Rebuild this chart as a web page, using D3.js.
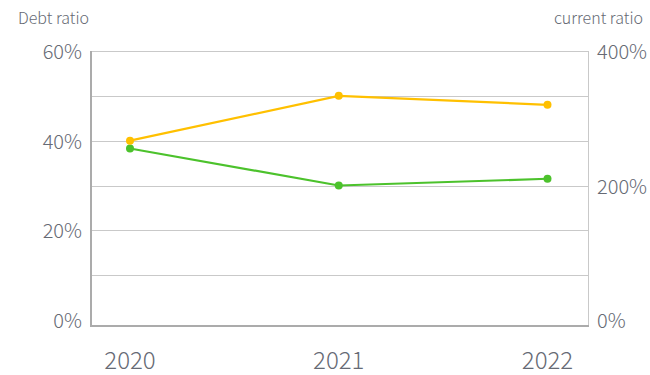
<!DOCTYPE html>
<html>
<head>
<meta charset="utf-8">
<script src="https://cdn.jsdelivr.net/npm/d3@7"></script>
<style>
  body { margin: 0; background: #fff; }
  svg text { font-family: "Noto Sans CJK SC", "Noto Sans", sans-serif; fill: #666a74; font-weight: 300; }
</style>
</head>
<body>
<svg id="chart" width="650" height="375"></svg>
<script>
// data
const years = ["2020", "2021", "2022"]
const debtRatio = [40, 50, 48]        // left axis, %
const currentRatio = [255, 200, 210]  // right axis, %
const leftTicks = [0, 20, 40, 60]
const rightTicks = [0, 200, 400]
const gridTicks = [10, 20, 30, 40, 50, 60]

const svg = d3.select("#chart")

const plotL = 91, plotR = 588, plotT = 51, zeroY = 320, axisY = 326

const x = d3.scalePoint().domain(years).range([130, 547.5])
const yL = d3.scaleLinear().domain([0, 60]).range([zeroY, plotT])
const yR = d3.scaleLinear().domain([0, 400]).range([zeroY, plotT])

// grid
svg.append("g")
    .selectAll("line")
    .data(gridTicks)
    .join("line")
    .attr("x1", plotL)
    .attr("x2", plotR)
    .attr("y1", d => Math.round(yL(d)) + 0.5)
    .attr("y2", d => Math.round(yL(d)) + 0.5)
    .style("stroke", "#c9c9c9")
    .style("stroke-width", 1)

// right border
svg.append("line")
    .attr("x1", plotR + 0.5).attr("x2", plotR + 0.5)
    .attr("y1", plotT).attr("y2", axisY)
    .style("stroke", "#c9c9c9")

// left + bottom axis lines
svg.append("path")
    .attr("d", `M${plotL},${plotT}V${axisY}H${plotR + 1}`)
    .style("fill", "none")
    .style("stroke", "#ababab")
    .style("stroke-width", 2)

// left labels
svg.append("g")
    .selectAll("text")
    .data(leftTicks)
    .join("text")
    .attr("x", 82)
    .attr("y", d => yL(d) + 1)
    .attr("dy", "0.35em")
    .attr("text-anchor", "end")
    .style("font-size", "20px")
    .text(d => d + "%")

// right labels
svg.append("g")
    .selectAll("text")
    .data(rightTicks)
    .join("text")
    .attr("x", 597)
    .attr("y", d => yR(d) + 1)
    .attr("dy", "0.35em")
    .style("font-size", "20px")
    .text(d => d + "%")

// x labels
svg.append("g")
    .selectAll("text")
    .data(years)
    .join("text")
    .attr("x", d => x(d))
    .attr("y", 361)
    .attr("dy", "0.35em")
    .attr("text-anchor", "middle")
    .style("font-size", "24px")
    .text(d => d)

// axis titles
svg.append("text")
    .attr("x", 18).attr("y", 24)
    .style("font-size", "16px")
    .text("Debt ratio")

svg.append("text")
    .attr("x", 643).attr("y", 24)
    .attr("text-anchor", "end")
    .style("font-size", "16px")
    .text("current ratio")

function drawSeries(values, yScale, color) {
    const pts = values.map((v, i) => [x(years[i]), yScale(v)])
    svg.append("path")
        .attr("d", d3.line()(pts))
        .style("fill", "none")
        .style("stroke", color)
        .style("stroke-width", 2.2)
    svg.append("g")
        .selectAll("circle")
        .data(pts)
        .join("circle")
        .attr("cx", d => d[0])
        .attr("cy", d => d[1])
        .attr("r", 4)
        .style("fill", color)
}

drawSeries(currentRatio, yR, "#4cc22c")
drawSeries(debtRatio, yL, "#ffc000")
</script>
</body>
</html>
